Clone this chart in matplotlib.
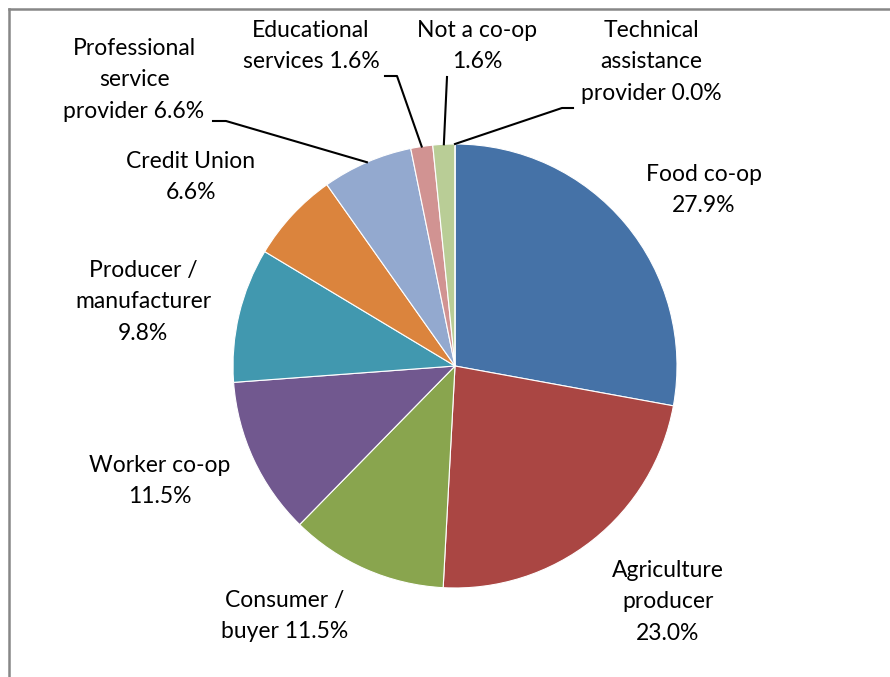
import matplotlib
matplotlib.use("Agg")
import numpy as np
import matplotlib.pyplot as plt
from matplotlib.lines import Line2D

# Share of respondents by organisation type
categories = ["Food co-op", "Agriculture\nproducer", "Consumer /\nbuyer", "Worker co-op",
              "Producer /\nmanufacturer", "Credit Union", "Professional\nservice\nprovider",
              "Educational\nservices", "Not a co-op", "Technical\nassistance\nprovider"]
shares = [27.9, 23.0, 11.5, 11.5, 9.8, 6.6, 6.6, 1.6, 1.6, 0.0]
colors = ["#4572A7", "#AA4643", "#89A54E", "#71588F", "#4198AF",
          "#DB843D", "#93A9CF", "#D19392", "#B9CD96", "#A99BBD"]

# label text layout: (x, y, joiner) in pixel units, y measured from top
label_pos = [(704, 190, "\n"), (668, 602, "\n"), (285, 616, " "), (160, 481, "\n"),
             (143, 302, "\n"), (191, 177, "\n"), (134, 80, " "), (311, 46, " "),
             (477, 46, "\n"), (651, 62, " ")]
# leader lines for the small slices: label-side points
leaders = {6: [(213, 121), (226, 121)],
           7: [(385, 76), (397, 76)],
           8: [(447, 77)],
           9: [(573, 108), (562, 108)]}

W, H = 890, 677
cx, cy, r = 455, 366, 222

plt.rcParams['font.family'] = ['Lato', 'DejaVu Sans']
fig = plt.figure(figsize=(W / 100, H / 100), dpi=100)
ax = fig.add_axes([0, 0, 1, 1])

wedges, _ = ax.pie(shares, colors=colors, startangle=90, counterclock=False,
                   radius=r, center=(cx, H - cy),
                   wedgeprops=dict(edgecolor="white", linewidth=0.8))
ax.set_xlim(0, W)
ax.set_ylim(0, H)
ax.set_aspect("equal")
ax.axis("off")

for i, (name, val) in enumerate(zip(categories, shares)):
    x, y, sep = label_pos[i]
    txt = name + sep + f"{val:.1f}%"
    ax.text(x, H - y, txt, ha="center", va="center", fontsize=16.5,
            linespacing=1.62, color="black")
    if i in leaders:
        w = wedges[i]
        mid = np.deg2rad((w.theta1 + w.theta2) / 2)
        ex = cx + r * np.cos(mid)
        ey = (H - cy) + r * np.sin(mid)
        pts = [(px, H - py) for px, py in leaders[i]] + [(ex, ey)]
        xs, ys = zip(*pts)
        ax.plot(xs, ys, color="black", linewidth=1.5)

# chart frame (top and left edges)
fig.add_artist(Line2D([8.5 / W, 1], [1 - 8.5 / H, 1 - 8.5 / H], color="#878787", linewidth=1.8))
fig.add_artist(Line2D([8.5 / W, 8.5 / W], [0, 1 - 8.5 / H], color="#878787", linewidth=1.8))

fig.savefig("out.png", dpi=100)
